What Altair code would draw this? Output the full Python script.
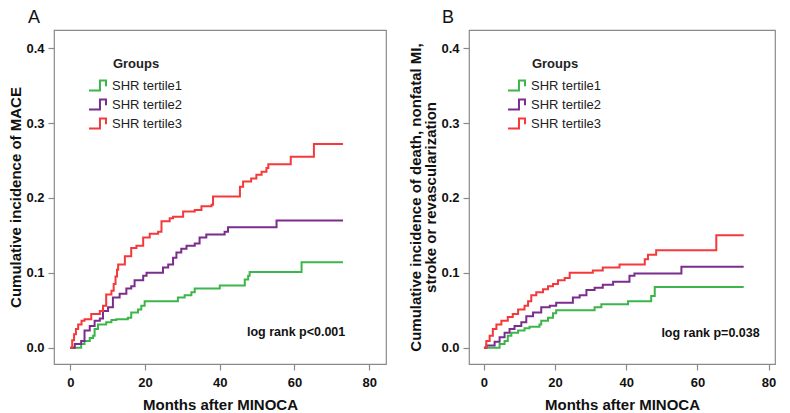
import altair as alt
import pandas as pd

groups = ["SHR tertile1", "SHR tertile2", "SHR tertile3"]
colors = ["#3cb54a", "#7b2d8e", "#f5393b"]

# Panel A (MACE)
a_t1_m = [0, 2.9, 3.8, 5.2, 6.1, 6.5, 7.4, 9.6, 11, 12.3, 15.4, 16.3, 18.1, 19, 19.9, 28.8, 30.6, 32.4, 33.3, 40, 46.7, 47.6, 48, 61.9, 73]
a_t1_c = [0, .005, .009, .013, .016, .025, .031, .034, .037, .038, .040, .047, .051, .056, .062, .067, .070, .074, .079, .083, .091, .096, .101, .114, .114]
a_t2_m = [0, 1.2, 2.9, 3.8, 5.2, 6.5, 7.9, 8.75, 10.1, 11.4, 13.2, 15, 16.3, 17.2, 19.5, 20.4, 24.8, 26.2, 27.5, 28.4, 29.7, 31.1, 33.3, 34.6, 36.4, 41.3, 42.2, 55.2, 73]
a_t2_c = [0, .005, .009, .023, .029, .036, .039, .049, .054, .067, .072, .079, .082, .090, .096, .100, .107, .111, .120, .127, .132, .136, .139, .147, .151, .155, .161, .170, .170]
a_t3_m = [0, 0.5, 1, 1.5, 2.1, 3, 3.8, 5.6, 7.9, 8.75, 9.6, 11, 11.6, 12.1, 12.5, 12.8, 14.6, 16.3, 17.7, 19.5, 21.25, 23.5, 24.4, 26.6, 27.5, 30.2, 33.3, 35.1, 37.8, 38.2, 45.4, 46.25, 48.4, 49.8, 51.2, 52.5, 53, 59, 65.2, 73]
a_t3_c = [0, .010, .018, .025, .031, .036, .038, .045, .049, .056, .071, .076, .085, .095, .104, .111, .122, .133, .136, .147, .152, .155, .169, .173, .175, .182, .184, .189, .191, .202, .215, .222, .226, .231, .235, .240, .245, .255, .272, .272]

# Panel B (death, nonfatal MI, stroke or revascularization)
b_t1_m = [0, 4.4, 5.8, 6.7, 7.7, 9.6, 11.4, 12.8, 15.6, 16.1, 18, 19.4, 20.3, 31.1, 33, 40.5, 47, 48, 73]
b_t1_c = [0, .005, .009, .016, .020, .023, .026, .028, .031, .036, .040, .046, .050, .054, .058, .062, .069, .081, .081]
b_t2_m = [0, 0.7, 3, 4.4, 5.8, 7.2, 8.6, 10.5, 11.9, 13.8, 16.1, 18.5, 20.3, 25, 26.9, 28.8, 31.1, 33.4, 36.3, 40.9, 42.3, 55.5, 73]
b_t2_c = [0, .003, .008, .014, .020, .025, .029, .034, .042, .047, .054, .056, .060, .067, .070, .077, .080, .084, .088, .096, .099, .108, .108]
b_t3_m = [0, 0.66, 1.6, 2.5, 3.5, 4.9, 6.7, 8.1, 9.6, 11.4, 12.4, 13.3, 14.7, 16.6, 18, 19.4, 20.8, 22.7, 24.1, 30.6, 33.4, 38.1, 45.2, 46.1, 48.4, 65.3, 73]
b_t3_c = [0, .009, .016, .025, .031, .036, .041, .045, .051, .056, .062, .070, .074, .078, .082, .085, .090, .093, .100, .103, .107, .111, .118, .124, .130, .150, .150]

x_ticks = [0, 20, 40, 60, 80]
y_ticks = [0.0, 0.1, 0.2, 0.3, 0.4]

FONT = "Liberation Sans"
GRAY = "#8a8a8a"
SYMBOL = "M-1.2,0.7 L0.35,0.7 L0.35,-0.7 L1.2,-0.7 L1.2,0.1"


def build_df(series):
    rows = []
    for g, (ms, cs) in zip(groups, series):
        for m, c in zip(ms, cs):
            rows.append({"month": m, "cum": c, "group": g})
    return pd.DataFrame(rows)


def panel(df, label, label_dx, ytitle, annot, annot_x, annot_y, xdom, width, legend_x):
    xs = alt.Scale(domain=xdom, nice=False, zero=False)
    ys = alt.Scale(domain=[-0.0218, 0.4243], nice=False, zero=False)
    lines = alt.Chart(df).mark_line(interpolate="step-after", strokeWidth=2, clip=True).encode(
        x=alt.X("month:Q", scale=xs,
                axis=alt.Axis(values=x_ticks, title="Months after MINOCA", format="d")),
        y=alt.Y("cum:Q", scale=ys,
                axis=alt.Axis(values=y_ticks, title=ytitle, format=".1f")),
        color=alt.Color("group:N", scale=alt.Scale(domain=groups, range=colors),
                        legend=alt.Legend(title="Groups", orient="none", legendX=legend_x, legendY=28,
                                          titleAnchor="middle", titleFontSize=13, titleFont=FONT,
                                          titleFontWeight="bold", titleColor="#222", titlePadding=6,
                                          labelFont=FONT, labelFontSize=13, labelColor="#222",
                                          labelOffset=6, symbolType=SYMBOL, symbolSize=200,
                                          symbolStrokeWidth=2, rowPadding=0)),
        order="month:Q",
    )
    adf = pd.DataFrame({"x": [annot_x], "y": [annot_y], "t": [annot]})
    text = alt.Chart(adf).mark_text(align="right", baseline="middle", font=FONT, fontSize=12.5,
                                    fontWeight="bold", color="#111").encode(
        x=alt.X("x:Q", scale=xs), y=alt.Y("y:Q", scale=ys), text="t:N")
    return alt.layer(lines, text).properties(
        width=width, height=334,
        title=alt.TitleParams(label, anchor="start", frame="group", dx=label_dx, fontSize=18,
                              fontWeight="normal", font=FONT, color="#111", offset=3),
    )


dfa = build_df([(a_t1_m, a_t1_c), (a_t2_m, a_t2_c), (a_t3_m, a_t3_c)])
dfb = build_df([(b_t1_m, b_t1_c), (b_t2_m, b_t2_c), (b_t3_m, b_t3_c)])

pa = panel(dfa, "A", -26, "Cumulative incidence of MACE", "log rank p<0.001", 73.6, 0.0214,
           [-4.37, 84.5], 332, 35)
pb = panel(dfb, "B", -27,
           ["Cumulative incidence of death, nonfatal MI,", "stroke or revascularization"],
           "log rank p=0.038", 77.5, 0.020, [-4.2, 81.8], 306, 39)

chart = alt.hconcat(pa, pb, spacing=21).resolve_scale(color="independent").resolve_legend(
    color="independent"
).properties(padding=0).configure_view(stroke=GRAY, strokeWidth=1.2).configure_axis(
    domain=False, grid=False, tickColor=GRAY, tickSize=6, tickWidth=1.2,
    labelFont=FONT, labelFontSize=13, labelFontWeight="bold", labelColor="#111", labelPadding=4,
    titleFont=FONT, titleFontSize=15, titleFontWeight="bold", titleColor="#111",
).configure_axisY(titlePadding=2, titleLineHeight=15).configure_axisX(
    labelPadding=6, titlePadding=8
)

chart.save("out.html", embed_options={"renderer": "svg", "actions": False})
